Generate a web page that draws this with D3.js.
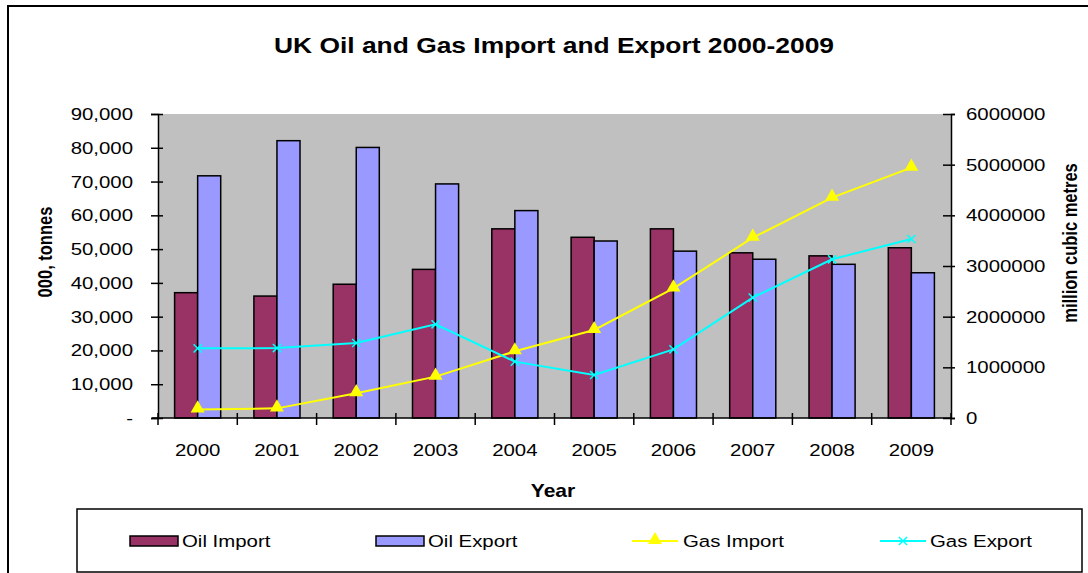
<!DOCTYPE html>
<html>
<head>
<meta charset="utf-8">
<script src="https://cdnjs.cloudflare.com/ajax/libs/d3/7.8.5/d3.min.js"></script>
<style>
    body { margin: 0; background: #fff; }
    text { font-family: Arial, "Liberation Sans", sans-serif; fill: #000; }
</style>
</head>
<body>
<div id="chart"></div>
<script>
// data
var years = ["2000", "2001", "2002", "2003", "2004", "2005", "2006", "2007", "2008", "2009"];
var oilImport = [37100, 36100, 39600, 44000, 56000, 53500, 56000, 48900, 48000, 50400];
var oilExport = [71700, 82100, 80100, 69300, 61400, 52400, 49400, 47000, 45500, 43000];
var gasImport = [170000, 190000, 490000, 816000, 1316000, 1737000, 2559000, 3559000, 4349000, 4941000];
var gasExport = [1375000, 1380000, 1480000, 1849000, 1112000, 849000, 1355000, 2375000, 3132000, 3533000];
var leftTicks = [0, 10000, 20000, 30000, 40000, 50000, 60000, 70000, 80000, 90000];
var rightTicks = [0, 1000000, 2000000, 3000000, 4000000, 5000000, 6000000];

var W = 1088, H = 573;
var SX = 1.2; // the original picture is stretched sideways a little

function loadJS() {
    plotChart();
}

// stretch text sideways around its own x
function stretch(sel) {
    sel.each(function () {
        var t = d3.select(this);
        var x = +t.attr("x") || 0;
        t.attr("x", x / SX).attr("transform", "scale(" + SX + ",1)");
    });
}

function plotChart() {

    var margin = {top: 114, left: 158, right: W - 951, bottom: H - 418},
        width = W - margin.left - margin.right,
        height = H - margin.top - margin.bottom;

    var svg = d3.select("#chart").append("svg")
        .attr("width", W)
        .attr("height", H);

    // outer chart border
    svg.append("rect")
        .attr("x", 8).attr("y", 6)
        .attr("width", W + 20).attr("height", H + 20)
        .attr("fill", "none").attr("stroke", "#000").attr("stroke-width", 2);

    // title
    svg.append("g")
        .attr("transform", "translate(554,53)")
        .append("text")
        .attr("text-anchor", "middle")
        .style("font-size", "22px").style("font-weight", "bold")
        .text("UK Oil and Gas Import and Export 2000-2009")
        .call(stretch);

    var g = svg.append("g")
        .attr("transform", "translate(" + margin.left + "," + margin.top + ")");

    // scales
    var x0 = d3.scaleBand().domain(years).range([0, width]).padding(0);
    var x1 = d3.scaleBand().domain(["imp", "exp"]).range([0, x0.bandwidth()])
        .paddingInner(0).paddingOuter(0.72);
    var yL = d3.scaleLinear().domain([0, 90000]).range([height, 0]);
    var yR = d3.scaleLinear().domain([0, 6000000]).range([height, 0]);

    // plot area
    g.append("rect")
        .attr("width", width).attr("height", height)
        .attr("fill", "#C0C0C0");

    // bars
    var oil = [
        {key: "imp", values: oilImport, color: "#993366"},
        {key: "exp", values: oilExport, color: "#9999FF"}
    ];
    oil.forEach(function (s) {
        g.selectAll(".bar-" + s.key)
            .data(s.values)
            .enter().append("rect")
            .attr("x", function (d, i) { return x0(years[i]) + x1(s.key); })
            .attr("y", function (d) { return yL(d); })
            .attr("width", x1.bandwidth())
            .attr("height", function (d) { return height - yL(d); })
            .attr("fill", s.color)
            .attr("stroke", "#000")
            .attr("stroke-width", 1.5);
    });

    // gas lines
    var cx = function (d, i) { return x0(years[i]) + x0.bandwidth() / 2; };
    var line = d3.line()
        .x(cx)
        .y(function (d) { return yR(d); });

    g.append("path").datum(gasImport)
        .attr("d", line).attr("fill", "none")
        .attr("stroke", "#FFFF00").attr("stroke-width", 2);
    g.append("path").datum(gasExport)
        .attr("d", line).attr("fill", "none")
        .attr("stroke", "#00FFFF").attr("stroke-width", 2);

    var tri = d3.symbol().type(d3.symbolTriangle).size(85);
    g.selectAll(".tri")
        .data(gasImport)
        .enter().append("path")
        .attr("d", tri)
        .attr("transform", function (d, i) { return "translate(" + cx(d, i) + "," + (yR(d) - 1) + ")"; })
        .attr("fill", "#FFFF00");

    var cross = d3.symbol().type(d3.symbolX).size(45);
    g.selectAll(".crs")
        .data(gasExport)
        .enter().append("path")
        .attr("d", cross)
        .attr("transform", function (d, i) { return "translate(" + cx(d, i) + "," + yR(d) + ")"; })
        .attr("fill", "none")
        .attr("stroke", "#00FFFF").attr("stroke-width", 1.5);

    // left axis
    var fmt = d3.format(",");
    var axL = g.append("g")
        .call(d3.axisLeft(yL).tickValues(leftTicks).tickSize(7).tickPadding(18)
            .tickFormat(function (d) { return d === 0 ? "-" : fmt(d); }));
    axL.selectAll("line").attr("x2", -7).attr("x1", 5);

    // right axis
    var axR = g.append("g")
        .attr("transform", "translate(" + width + ",0)")
        .call(d3.axisRight(yR).tickValues(rightTicks).tickSize(4).tickPadding(11)
            .tickFormat(d3.format("d")));
    axR.selectAll("line").attr("x1", -8);

    // bottom axis, ticks between categories
    var axB = g.append("g")
        .attr("transform", "translate(0," + height + ")")
        .call(d3.axisBottom(x0).tickSize(0).tickPadding(26));
    axB.selectAll(".tick line").remove();
    axB.selectAll(".sep")
        .data(d3.range(years.length + 1))
        .enter().append("line")
        .attr("x1", function (i) { return i * x0.step(); })
        .attr("x2", function (i) { return i * x0.step(); })
        .attr("y1", -5).attr("y2", 7)
        .attr("stroke", "#000").attr("stroke-width", 1.5);

    [axL, axR, axB].forEach(function (a) {
        a.select(".domain").attr("stroke", "#000").attr("stroke-width", 1.5);
        a.selectAll(".tick line").attr("stroke", "#000").attr("stroke-width", 1.5);
        a.selectAll("text")
            .style("font-size", "17px")
            .style("font-family", "Arial, 'Liberation Sans', sans-serif")
            .attr("fill", "#000")
            .call(stretch);
    });
    axB.select(".domain").attr("d", "M-6,0H" + width);

    // axis titles (the sideways stretch makes them look thicker)
    svg.append("text")
        .attr("transform", "translate(45,252) scale(" + SX + ",1) rotate(-90)")
        .attr("text-anchor", "middle")
        .attr("dy", "0.35em")
        .style("font-size", "16.5px").style("font-weight", "bold")
        .text("000, tonnes");
    svg.append("text")
        .attr("transform", "translate(1070,243) scale(" + SX + ",1) rotate(-90)")
        .attr("text-anchor", "middle")
        .attr("dy", "0.35em")
        .style("font-size", "16.5px").style("font-weight", "bold")
        .text("million cubic metres");
    svg.append("g")
        .attr("transform", "translate(553,497)")
        .append("text")
        .attr("text-anchor", "middle")
        .style("font-size", "17.5px").style("font-weight", "bold")
        .text("Year")
        .call(stretch);

    // legend
    svg.append("rect")
        .attr("x", 77).attr("y", 509)
        .attr("width", 1005).attr("height", 63)
        .attr("fill", "#fff").attr("stroke", "#000").attr("stroke-width", 1.5);

    var legend = [
        {name: "Oil Import", type: "bar", color: "#993366", x: 130, tx: 182},
        {name: "Oil Export", type: "bar", color: "#9999FF", x: 376, tx: 428},
        {name: "Gas Import", type: "tri", color: "#FFFF00", x: 632, tx: 683},
        {name: "Gas Export", type: "x", color: "#00FFFF", x: 880, tx: 930}
    ];
    var ly = 541;
    legend.forEach(function (l) {
        if (l.type === "bar") {
            svg.append("rect")
                .attr("x", l.x).attr("y", ly - 5)
                .attr("width", 48).attr("height", 10)
                .attr("fill", l.color).attr("stroke", "#000").attr("stroke-width", 1.5);
        } else {
            svg.append("line")
                .attr("x1", l.x).attr("x2", l.x + 46)
                .attr("y1", ly).attr("y2", ly)
                .attr("stroke", l.color).attr("stroke-width", 2);
            if (l.type === "tri") {
                svg.append("path").attr("d", tri)
                    .attr("transform", "translate(" + (l.x + 23) + "," + (ly - 1) + ")")
                    .attr("fill", l.color);
            } else {
                svg.append("path").attr("d", cross)
                    .attr("transform", "translate(" + (l.x + 23) + "," + ly + ")")
                    .attr("fill", "none").attr("stroke", l.color).attr("stroke-width", 1.5);
            }
        }
        svg.append("g")
            .attr("transform", "translate(" + l.tx + "," + (ly + 6) + ")")
            .append("text")
            .style("font-size", "17px")
            .text(l.name)
            .call(stretch);
    });
}

loadJS();
</script>
</body>
</html>
